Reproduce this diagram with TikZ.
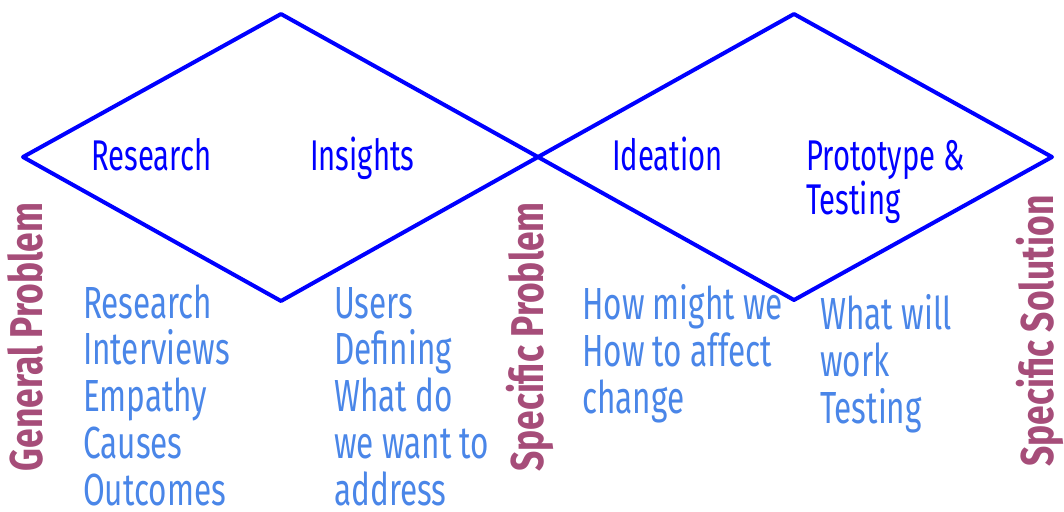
\documentclass[tikz,border=0pt]{standalone}
\usepackage{fontspec}
\newfontfamily\condR[FakeStretch=0.68]{Fira Sans}
\newfontfamily\condL[FakeStretch=0.70]{Fira Sans}
\newfontfamily\condB[FakeStretch=0.77]{Fira Sans}
\definecolor{dblue}{RGB}{0,0,255}
\definecolor{lblue}{RGB}{74,134,232}
\definecolor{plum}{RGB}{166,77,121}
\begin{document}
\begin{tikzpicture}[x=1pt,y=-1pt,
  diam/.style={draw=dblue, line width=4pt, line join=round},
  stage/.style={font=\condR\fontsize{43}{45}\selectfont, text=dblue, inner sep=0pt, anchor=base west},
  item/.style={font=\condL\fontsize{45}{47}\selectfont, text=lblue, inner sep=0pt, anchor=base west},
  side/.style={font=\condB\bfseries\fontsize{46}{48}\selectfont, text=plum, inner sep=0pt, rotate=90, anchor=base}]
\useasboundingbox (0,0) rectangle (1064,511);
% diamonds
\coordinate (L) at (23,157);
\coordinate (T1) at (281,14);
\coordinate (M) at (538,157);
\coordinate (B1) at (281,301);
\coordinate (T2) at (794,14);
\coordinate (R) at (1052,157);
\coordinate (B2) at (794,300);
\draw[diam] (L) -- (T1) -- (M) -- (B1) -- cycle;
\draw[diam] (M) -- (T2) -- (R) -- (B2) -- cycle;
% stage labels
\node[stage] (research) at (91,170) {Research};
\node[stage] (insights) at (310,170) {Insights};
\node[stage] (ideation) at (612,170) {Ideation};
\node[stage] (proto1) at (806,170) {Prototype \&};
\node[stage] (proto2) at (806,214) {Testing};
% side labels
\node[side] (gen) at (42,337) {General Problem};
\node[side] (spec) at (543,337) {Specific Problem};
\node[side] (sol) at (1053,331) {Specific Solution};
% item lists
\foreach \t [count=\i] in {Research,Interviews,Empathy,Causes,Outcomes}
  \node[item] (a\i) at (83,{318+46.8*(\i-1)}) {\t};
\foreach \t [count=\i] in {Users,Defining,What do,we want to,address}
  \node[item] (b\i) at (334,{318+46.8*(\i-1)}) {\t};
\foreach \t [count=\i] in {How might we,How to affect,change}
  \node[item] (c\i) at (582,{319+47*(\i-1)}) {\t};
\foreach \t [count=\i] in {What will,work,Testing}
  \node[item] (d\i) at (820,{329+47*(\i-1)}) {\t};
\end{tikzpicture}
\end{document}
